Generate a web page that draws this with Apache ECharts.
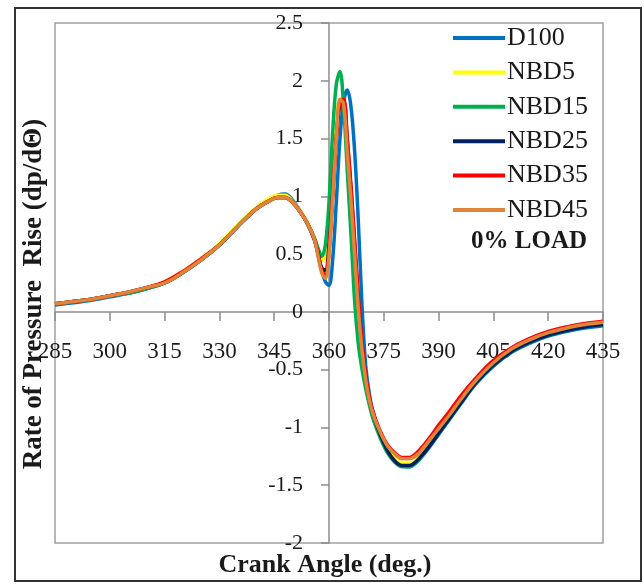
<!DOCTYPE html>
<html>
<head>
<meta charset="utf-8">
<script src="https://cdn.jsdelivr.net/npm/echarts@6/dist/echarts.min.js"></script>
<style>html,body{margin:0;padding:0;background:#fff;}#c{width:644px;height:584px;}</style>
</head>
<body>
<div id="c"></div>
<script>
var angles = [285,290,295,300,305,310,315,320,325,330,335,340,343,346,348,350,352,354,356,357,358,359,360,361,362,363,364,365,366,367,368,369,370,371,372,374,376,378,380,382,384,386,388,390,393,396,400,405,410,415,420,425,430,435];
var d100 = [0.06,0.08,0.10,0.13,0.16,0.20,0.25,0.34,0.45,0.58,0.74,0.89,0.96,1.01,1.02,0.97,0.88,0.77,0.62,0.50,0.36,0.26,0.23,0.45,0.95,1.50,1.82,1.92,1.78,1.40,0.80,0.08,-0.45,-0.70,-0.86,-1.05,-1.19,-1.28,-1.33,-1.34,-1.30,-1.23,-1.15,-1.06,-0.93,-0.80,-0.63,-0.47,-0.35,-0.27,-0.21,-0.17,-0.14,-0.12];
var nbd5 = [0.07,0.09,0.11,0.14,0.17,0.21,0.26,0.35,0.46,0.59,0.75,0.90,0.97,1.01,1.01,0.96,0.88,0.78,0.64,0.54,0.45,0.46,0.70,1.15,1.60,1.84,1.80,1.42,1.00,0.55,0.08,-0.30,-0.57,-0.76,-0.89,-1.06,-1.19,-1.27,-1.31,-1.31,-1.28,-1.21,-1.13,-1.04,-0.91,-0.78,-0.61,-0.45,-0.33,-0.25,-0.19,-0.15,-0.12,-0.10];
var nbd15 = [0.07,0.09,0.11,0.14,0.16,0.20,0.25,0.34,0.45,0.58,0.74,0.89,0.95,0.99,0.99,0.95,0.87,0.77,0.64,0.55,0.48,0.58,0.95,1.55,1.97,2.08,1.78,1.22,0.68,0.10,-0.27,-0.49,-0.66,-0.80,-0.92,-1.09,-1.22,-1.30,-1.34,-1.34,-1.30,-1.23,-1.14,-1.05,-0.92,-0.79,-0.62,-0.46,-0.34,-0.26,-0.20,-0.16,-0.13,-0.11];
var nbd25 = [0.07,0.09,0.11,0.14,0.17,0.21,0.25,0.34,0.45,0.58,0.74,0.89,0.95,0.99,0.99,0.95,0.87,0.77,0.63,0.51,0.38,0.36,0.58,1.02,1.50,1.80,1.83,1.48,1.07,0.60,0.12,-0.27,-0.55,-0.75,-0.88,-1.06,-1.20,-1.29,-1.33,-1.33,-1.29,-1.22,-1.14,-1.05,-0.92,-0.79,-0.62,-0.46,-0.34,-0.26,-0.20,-0.16,-0.13,-0.11];
var nbd35 = [0.07,0.09,0.11,0.14,0.17,0.21,0.26,0.35,0.46,0.58,0.74,0.89,0.95,0.99,0.99,0.95,0.87,0.77,0.63,0.50,0.36,0.32,0.52,1.00,1.50,1.82,1.84,1.50,1.10,0.63,0.14,-0.26,-0.54,-0.73,-0.86,-1.03,-1.15,-1.22,-1.26,-1.26,-1.22,-1.15,-1.07,-0.98,-0.86,-0.73,-0.58,-0.42,-0.31,-0.23,-0.17,-0.13,-0.10,-0.08];
var nbd45 = [0.07,0.09,0.11,0.14,0.17,0.21,0.25,0.34,0.45,0.58,0.74,0.89,0.95,0.99,0.99,0.95,0.87,0.77,0.63,0.48,0.34,0.29,0.48,0.98,1.50,1.84,1.80,1.38,0.97,0.50,0.03,-0.32,-0.58,-0.76,-0.88,-1.04,-1.16,-1.23,-1.27,-1.27,-1.24,-1.17,-1.09,-1.01,-0.89,-0.76,-0.60,-0.44,-0.32,-0.24,-0.18,-0.14,-0.11,-0.09];
var seriesNames = ['D100','NBD5','NBD15','NBD25','NBD35','NBD45'];
var seriesValues = [d100, nbd5, nbd15, nbd25, nbd35, nbd45];
var seriesColors = ['#0070C0','#FFFF00','#00B050','#002060','#FF0000','#E0843C'];
var xTitle = 'Crank Angle (deg.)';
var yTitle = 'Rate of Pressure  Rise (dp/dΘ)';
var noteText = '0% LOAD';

var FONT = '"Liberation Serif","Times New Roman",serif';
var chart = echarts.init(document.getElementById('c'), null, {renderer:'canvas'});
var series = seriesNames.map(function(n, k){
  return {
    name: n, type: 'line', smooth: 0.35, symbol: 'none',
    lineStyle: {width: 3.5, color: seriesColors[k]},
    itemStyle: {color: seriesColors[k]},
    data: angles.map(function(a, i){ return [a, seriesValues[k][i]]; }),
    z: 2 + k
  };
});
chart.setOption({
  animation: false,
  backgroundColor: '#fff',
  grid: {left: 55, right: 41, top: 23, bottom: 41, show: true, borderColor: '#a0a0a0', borderWidth: 1.5, backgroundColor: 'transparent', outerBoundsMode: 'none'},
  xAxis: {
    type: 'value', min: 285, max: 435, interval: 15,
    axisLine: {onZero: true, lineStyle: {color: '#8c8c8c', width: 1.5}},
    axisTick: {show: true, length: 9, lineStyle: {color: '#8c8c8c', width: 1.5}},
    axisLabel: {margin: -203, fontFamily: FONT, fontSize: 23, color: '#1a1a1a'},
    splitLine: {show: false}
  },
  yAxis: {
    type: 'value', min: -2, max: 2.5, interval: 0.5, offset: -274,
    axisLine: {show: true, onZero: false, lineStyle: {color: '#8c8c8c', width: 1.5}},
    axisTick: {show: true, length: 8, lineStyle: {color: '#8c8c8c', width: 1.5}},
    axisLabel: {margin: 26, fontFamily: FONT, fontSize: 22, color: '#1a1a1a'},
    splitLine: {show: false}
  },
  legend: {
    orient: 'vertical', left: 448, top: 20, itemWidth: 52, itemHeight: 4, itemGap: 8.4,
    icon: 'rect', data: seriesNames,
    textStyle: {fontFamily: FONT, fontSize: 26, lineHeight: 26, color: '#1a1a1a', padding: [0,0,0,-3]}
  },
  graphic: [
    {type: 'rect', shape: {x: 15, y: 8, width: 626, height: 573}, style: {fill: 'none', stroke: '#333', lineWidth: 2}, silent: true},
    {type: 'text', x: 587, y: 242, style: {text: noteText, font: 'bold 25px ' + FONT, fill: '#1a1a1a', textAlign: 'right', textVerticalAlign: 'middle'}},
    {type: 'text', x: 325, y: 565, style: {text: xTitle, font: 'bold 26px ' + FONT, fill: '#1a1a1a', textAlign: 'center', textVerticalAlign: 'middle'}},
    {type: 'text', x: 34, y: 294, rotation: Math.PI/2, style: {text: yTitle, font: 'bold 27px ' + FONT, fill: '#1a1a1a', textAlign: 'center', textVerticalAlign: 'middle'}}
  ],
  series: series
});
</script>
</body>
</html>
